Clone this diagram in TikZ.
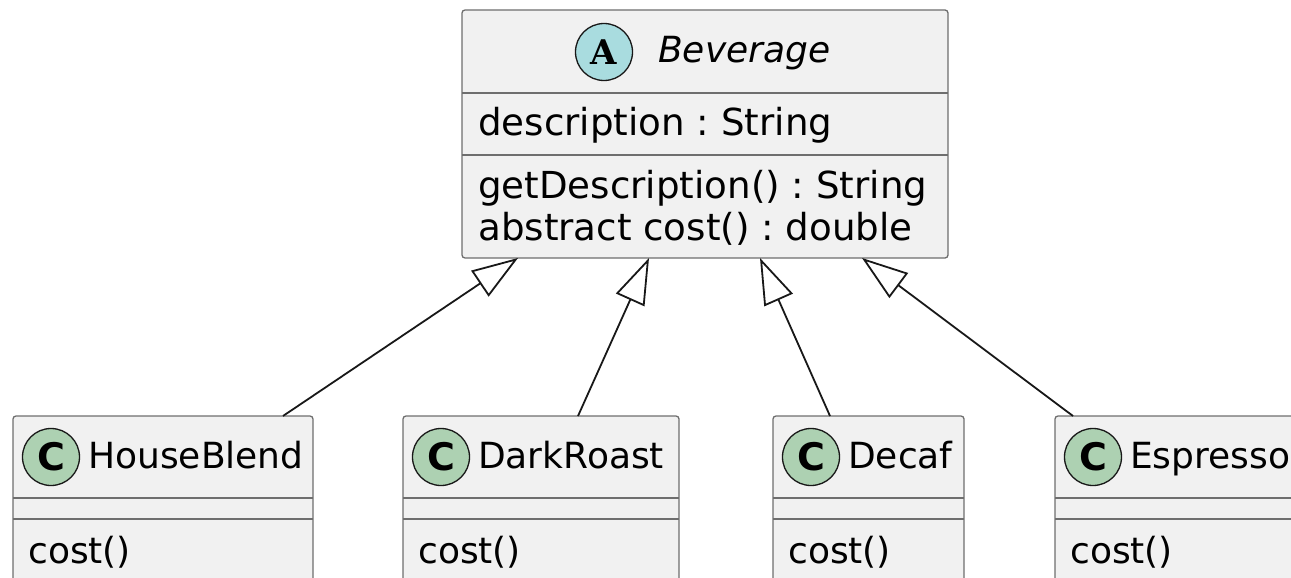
\documentclass[tikz,border=0pt]{standalone}
\usepackage{fontspec}
\setmainfont{DejaVu Sans}
\newfontfamily\spotserif{DejaVu Serif}
\usetikzlibrary{arrows.meta,calc}
\definecolor{boxfill}{HTML}{F1F1F1}
\definecolor{boxline}{HTML}{6E6E6E}
\definecolor{ink}{HTML}{181818}
\definecolor{abscirc}{HTML}{A9DCDF}
\definecolor{clscirc}{HTML}{ADD1B2}
\tikzset{
  classbox/.style={draw=boxline, fill=boxfill, line width=1.3pt, rounded corners=3pt,
    anchor=north west, inner sep=0pt, outer sep=0pt},
  sepline/.style={draw=boxline, line width=1.3pt},
  spot/.style={circle, draw=ink, line width=1.3pt, minimum size=57pt, inner sep=0pt},
  txt/.style={anchor=base west, inner sep=0pt, text=black},
  memb/.style={txt, font=\fontsize{37.2}{43}\selectfont},
  inh/.style={draw=ink, line width=1.8pt,
    -{Triangle[open, length=46pt, width=31pt, fill=white, line width=1.8pt]}}
}
\begin{document}
\frenchspacing
\begin{tikzpicture}[x=1pt,y=-1pt, font=\fontsize{36}{43}\selectfont]
\useasboundingbox (0,0) rectangle (1291,578);
\clip (0,0) rectangle (1291,578);
% Beverage
\node[classbox, minimum width=486pt, minimum height=248pt] (bev) at (462,10) {};
\draw[sepline] (462,93) -- (948,93);
\draw[sepline] (462,155) -- (948,155);
\node[spot, fill=abscirc] (bevspot) at (604,52) {\spotserif\fontsize{34}{34}\selectfont\bfseries A};
\node[txt] (bevname) at (658,63) {\itshape Beverage};
\node[memb] (bevattr) at (478,135) {description : String};
\node[memb] (bevm1) at (478,198) {getDescription() : String};
\node[memb] (bevm2) at (478,240) {abstract cost() : double};
% children
\foreach \nm/\lbl/\x/\w in {hb/HouseBlend/13/300, dr/DarkRoast/403/276, dc/Decaf/773/191, es/Espresso/1055/250}{
  \node[classbox, minimum width=\w pt, minimum height=190pt] (\nm) at (\x,416) {};
  \draw[sepline] (\x,498) -- ++(\w,0);
  \draw[sepline] (\x,519) -- ++(\w,0);
  \node[spot, fill=clscirc] (\nm spot) at (\x+38,457) {\fontsize{38}{38}\selectfont\bfseries C};
  \node[txt] (\nm name) at (\x+75,468) {\lbl};
  \node[txt] (\nm op) at (\x+15,563) {cost()};
}
% inheritance arrows
\draw[inh] ([xshift=270pt]hb.north west) -- ([xshift=56pt]bev.south west);
\draw[inh] ([xshift=175pt]dr.north west) -- ([xshift=187pt]bev.south west);
\draw[inh] ([xshift=57pt]dc.north west) -- ([xshift=298pt]bev.south west);
\draw[inh] ([xshift=18pt]es.north west) -- ([xshift=400pt]bev.south west);
\end{tikzpicture}
\end{document}
